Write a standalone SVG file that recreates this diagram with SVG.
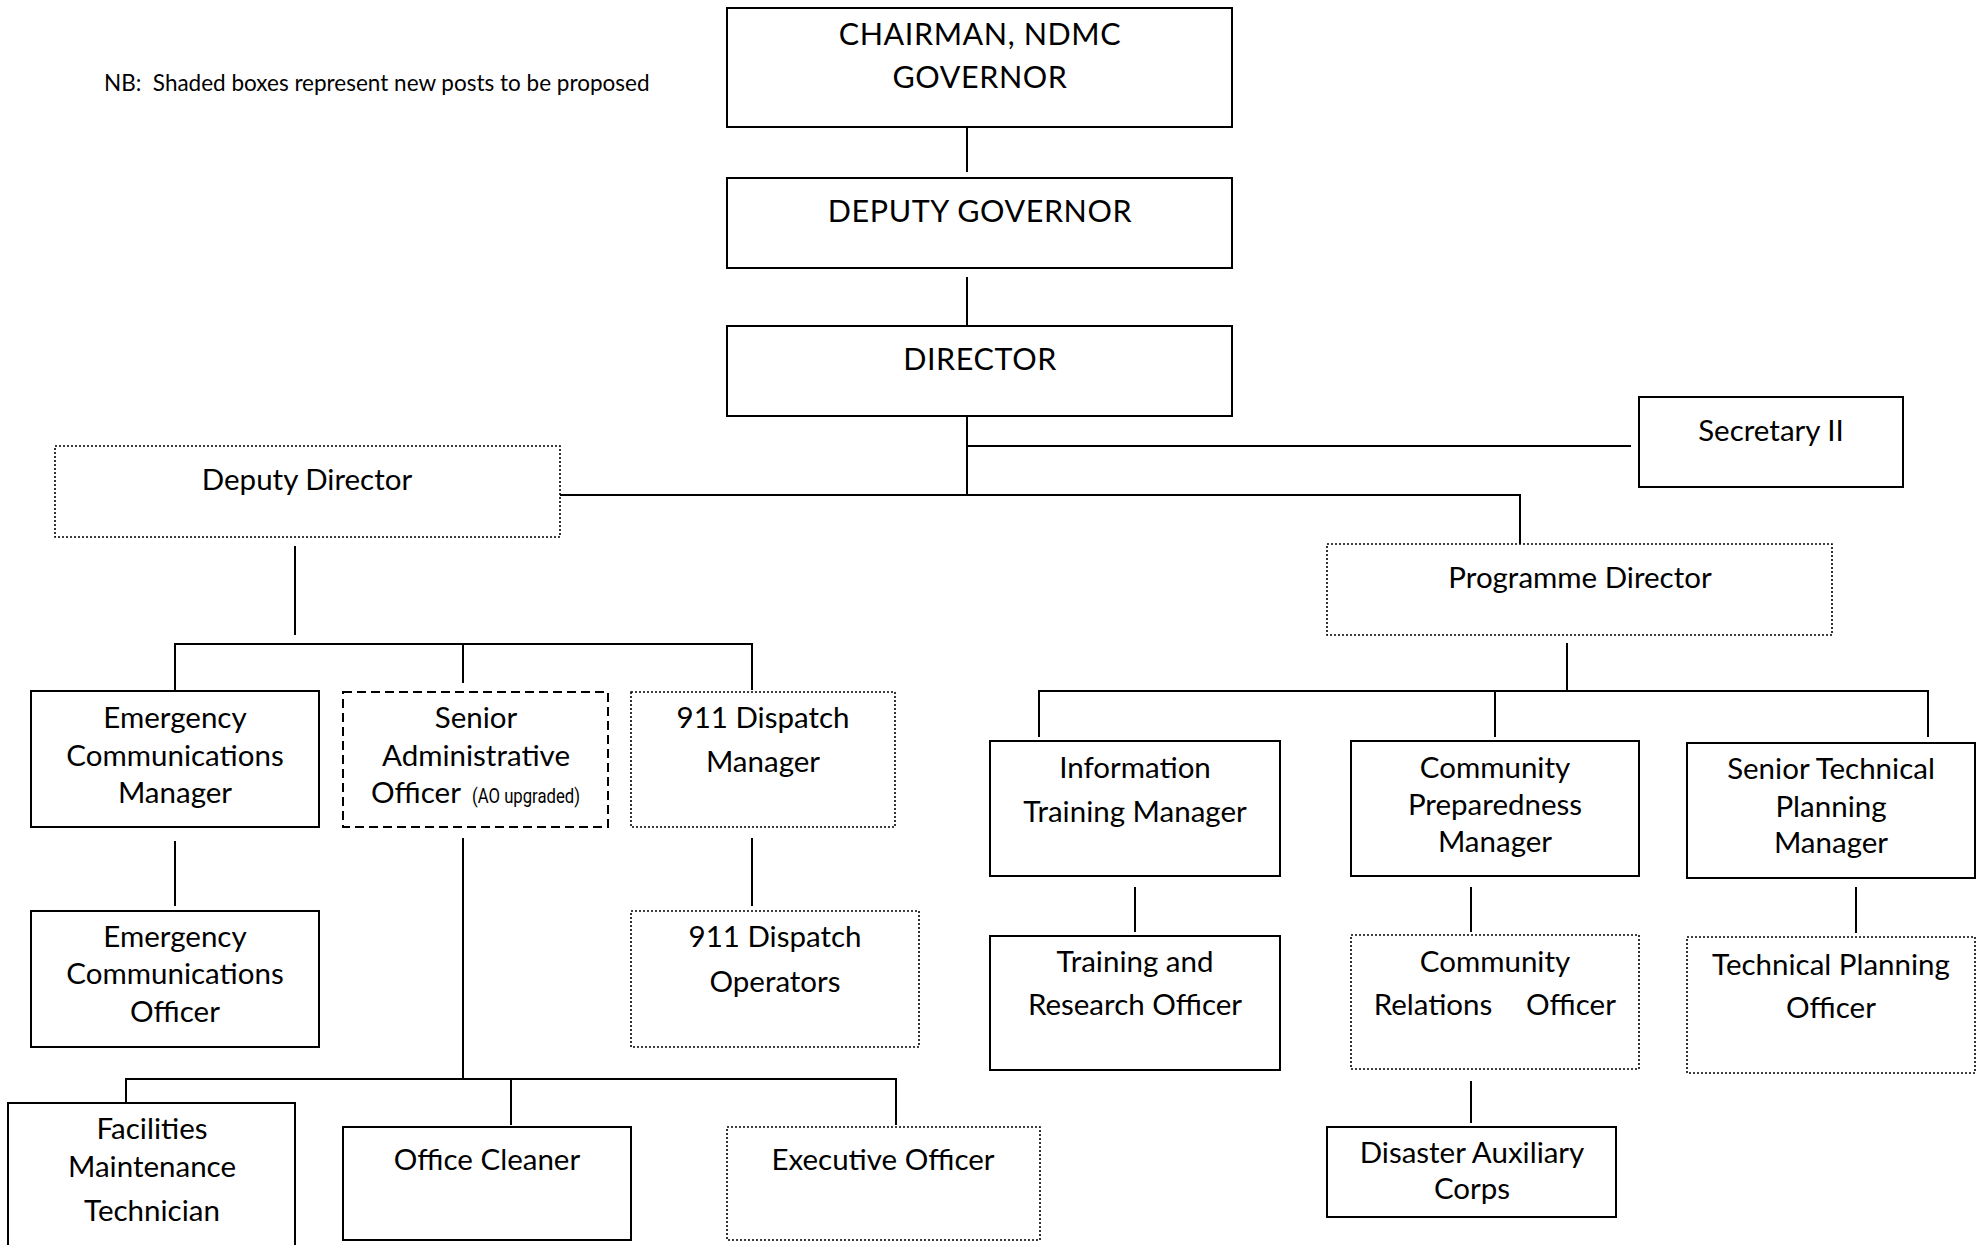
<svg xmlns="http://www.w3.org/2000/svg" width="1982" height="1245" viewBox="0 0 1982 1245">
<style>
  .box{fill:#fff;stroke:#000;stroke-width:2}
  .dot{fill:#fff;stroke:#000;stroke-width:1.6;stroke-dasharray:2 2}
  .dash{fill:#fff;stroke:#000;stroke-width:2;stroke-dasharray:9 5}
  .t{font-family:Lato,"Open Sans","Liberation Sans",sans-serif;font-size:29.5px;fill:#000;text-anchor:middle}
  .caps{font-size:30.5px;letter-spacing:0.6px}
  .nb{font-family:Lato,"Open Sans","Liberation Sans",sans-serif;font-size:22.5px;fill:#000}
  .small{font-family:Roboto,"Liberation Sans",sans-serif;font-size:20px;fill:#000}
  #connectors line{stroke:#000;stroke-width:2}
</style>
<rect width="1982" height="1245" fill="#fff"/>
<text class="nb" x="104" y="91" xml:space="preserve">NB:  Shaded boxes represent new posts to be proposed</text>

<g id="connectors">
  <line x1="967" y1="127" x2="967" y2="172"/>
  <line x1="967" y1="277" x2="967" y2="325"/>
  <line x1="967" y1="398" x2="967" y2="496"/>
  <line x1="967" y1="446" x2="1631" y2="446"/>
  <line x1="560" y1="495" x2="1520" y2="495"/>
  <line x1="1520" y1="494" x2="1520" y2="544"/>
  <line x1="295" y1="546" x2="295" y2="635"/>
  <line x1="174" y1="644" x2="753" y2="644"/>
  <line x1="175" y1="643" x2="175" y2="690"/>
  <line x1="463" y1="643" x2="463" y2="683"/>
  <line x1="752" y1="643" x2="752" y2="690"/>
  <line x1="175" y1="841" x2="175" y2="906"/>
  <line x1="752" y1="838" x2="752" y2="906"/>
  <line x1="463" y1="838" x2="463" y2="1079"/>
  <line x1="125" y1="1079" x2="897" y2="1079"/>
  <line x1="126" y1="1078" x2="126" y2="1104"/>
  <line x1="511" y1="1078" x2="511" y2="1125"/>
  <line x1="896" y1="1078" x2="896" y2="1125"/>
  <line x1="1567" y1="643" x2="1567" y2="691"/>
  <line x1="1038" y1="691" x2="1929" y2="691"/>
  <line x1="1039" y1="690" x2="1039" y2="737"/>
  <line x1="1495" y1="690" x2="1495" y2="737"/>
  <line x1="1928" y1="690" x2="1928" y2="737"/>
  <line x1="1135" y1="887" x2="1135" y2="932"/>
  <line x1="1471" y1="887" x2="1471" y2="932"/>
  <line x1="1856" y1="887" x2="1856" y2="933"/>
  <line x1="1471" y1="1081" x2="1471" y2="1123"/>
</g>

<g id="chairman">
  <rect class="box" x="727" y="8" width="505" height="119"/>
  <text class="t caps" x="980" y="45">CHAIRMAN, NDMC</text>
  <text class="t caps" x="980" y="88">GOVERNOR</text>
</g>
<g id="deputy-governor">
  <rect class="box" x="727" y="178" width="505" height="90"/>
  <text class="t caps" x="980" y="222">DEPUTY GOVERNOR</text>
</g>
<g id="director">
  <rect class="box" x="727" y="326" width="505" height="90"/>
  <text class="t caps" x="980" y="370">DIRECTOR</text>
</g>
<g id="secretary-ii">
  <rect class="box" x="1639" y="397" width="264" height="90"/>
  <text class="t" x="1771" y="441">Secretary II</text>
</g>
<g id="deputy-director">
  <rect class="dot" x="55" y="446" width="505" height="91"/>
  <text class="t" x="307" y="490">Deputy Director</text>
</g>
<g id="programme-director">
  <rect class="dot" x="1327" y="544" width="505" height="91"/>
  <text class="t" x="1580" y="588">Programme Director</text>
</g>
<g id="emergency-communications-manager">
  <rect class="box" x="31" y="691" width="288" height="136"/>
  <text class="t" x="175" y="728">Emergency</text>
  <text class="t" x="175" y="766">Communications</text>
  <text class="t" x="175" y="803">Manager</text>
</g>
<g id="senior-administrative-officer">
  <rect class="dash" x="343" y="692" width="265" height="135"/>
  <text class="t" x="476" y="728">Senior</text>
  <text class="t" x="476" y="766">Administrative</text>
  <text class="t" x="416" y="803">Officer</text>
  <text class="small" x="472" y="803" textLength="108" lengthAdjust="spacingAndGlyphs">(AO upgraded)</text>
</g>
<g id="dispatch-manager">
  <rect class="dot" x="631" y="692" width="264" height="135"/>
  <text class="t" x="763" y="728">911 Dispatch</text>
  <text class="t" x="763" y="772">Manager</text>
</g>
<g id="emergency-communications-officer">
  <rect class="box" x="31" y="911" width="288" height="136"/>
  <text class="t" x="175" y="947">Emergency</text>
  <text class="t" x="175" y="984">Communications</text>
  <text class="t" x="175" y="1022">Officer</text>
</g>
<g id="dispatch-operators">
  <rect class="dot" x="631" y="911" width="288" height="136"/>
  <text class="t" x="775" y="947">911 Dispatch</text>
  <text class="t" x="775" y="992">Operators</text>
</g>
<g id="facilities-maintenance-technician">
  <rect class="box" x="8" y="1103" width="287" height="160"/>
  <text class="t" x="152" y="1139">Facilities</text>
  <text class="t" x="152" y="1177">Maintenance</text>
  <text class="t" x="152" y="1221">Technician</text>
</g>
<g id="office-cleaner">
  <rect class="box" x="343" y="1127" width="288" height="113"/>
  <text class="t" x="487" y="1170">Office Cleaner</text>
</g>
<g id="executive-officer">
  <rect class="dot" x="727" y="1127" width="313" height="113"/>
  <text class="t" x="883" y="1170">Executive Officer</text>
</g>
<g id="information-training-manager">
  <rect class="box" x="990" y="741" width="290" height="135"/>
  <text class="t" x="1135" y="778">Information</text>
  <text class="t" x="1135" y="822">Training Manager</text>
</g>
<g id="community-preparedness-manager">
  <rect class="box" x="1351" y="741" width="288" height="135"/>
  <text class="t" x="1495" y="778">Community</text>
  <text class="t" x="1495" y="815">Preparedness</text>
  <text class="t" x="1495" y="852">Manager</text>
</g>
<g id="senior-technical-planning-manager">
  <rect class="box" x="1687" y="743" width="288" height="135"/>
  <text class="t" x="1831" y="779">Senior Technical</text>
  <text class="t" x="1831" y="817">Planning</text>
  <text class="t" x="1831" y="853">Manager</text>
</g>
<g id="training-research-officer">
  <rect class="box" x="990" y="936" width="290" height="134"/>
  <text class="t" x="1135" y="972">Training and</text>
  <text class="t" x="1135" y="1015">Research Officer</text>
</g>
<g id="community-relations-officer">
  <rect class="dot" x="1351" y="935" width="288" height="134"/>
  <text class="t" x="1495" y="972">Community</text>
  <text class="t" y="1015"><tspan x="1433">Relations</tspan><tspan x="1571">Officer</tspan></text>
</g>
<g id="technical-planning-officer">
  <rect class="dot" x="1687" y="937" width="288" height="136"/>
  <text class="t" x="1831" y="975">Technical Planning</text>
  <text class="t" x="1831" y="1018">Officer</text>
</g>
<g id="disaster-auxiliary-corps">
  <rect class="box" x="1327" y="1127" width="289" height="90"/>
  <text class="t" x="1472" y="1163">Disaster Auxiliary</text>
  <text class="t" x="1472" y="1199">Corps</text>
</g>
</svg>
